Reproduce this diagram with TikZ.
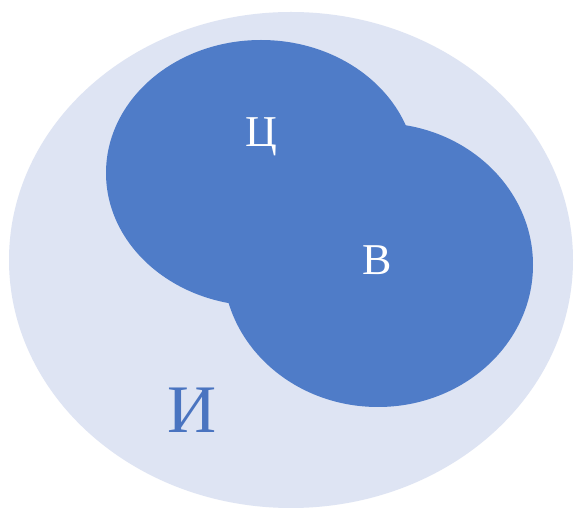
\documentclass[tikz,border=0pt]{standalone}
\usepackage{fontspec}
\setmainfont{Liberation Serif}
\definecolor{setdark}{RGB}{79,124,200}
\definecolor{setlight}{RGB}{222,228,243}
\definecolor{labelblue}{RGB}{74,116,192}
\begin{document}
\begin{tikzpicture}[x=1pt,y=-1pt,
  lab/.style={anchor=base,inner sep=0pt,font=\fontsize{44}{50}\selectfont,text=white},
  biglab/.style={anchor=base,inner sep=0pt,font=\fontsize{68}{76}\selectfont,text=labelblue}]
\useasboundingbox (0,0) rectangle (574,510);
\fill[white] (0,0) rectangle (574,510);
% universe
\fill[setlight] (291,260) ellipse [x radius=282, y radius=248];
% sets
\fill[setdark] (261,173) ellipse [x radius=155, y radius=133];
\fill[setdark] (378,265) ellipse [x radius=155, y radius=142];
% labels
\node[lab] (c) at (261,147) {Ц};
\node[lab] (v) at (377,275) {В};
\node[biglab] (i) at (192,433) {И};
\end{tikzpicture}
\end{document}
